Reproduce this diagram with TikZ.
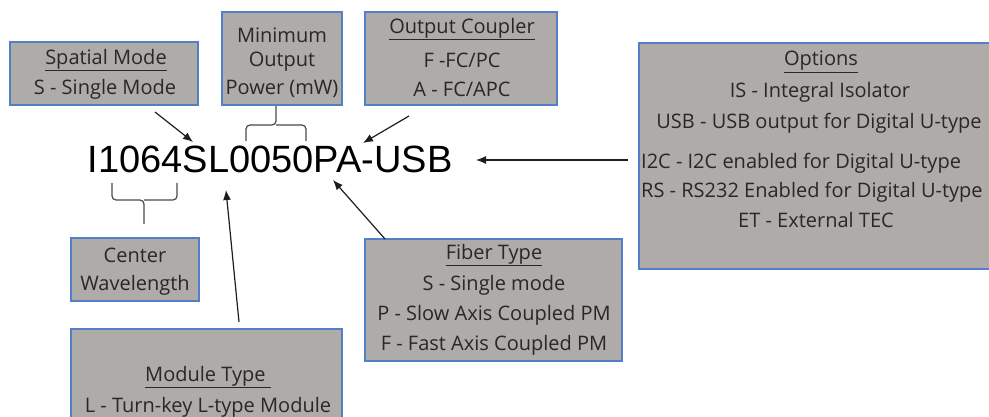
\documentclass[tikz,border=0pt]{standalone}
\usepackage{fontspec}
\setmainfont{Open Sans}
\newfontfamily\arialf{Liberation Sans}
\usetikzlibrary{arrows.meta}
\definecolor{boxfill}{RGB}{174,171,169}
\definecolor{boxline}{RGB}{84,126,200}
\definecolor{txt}{RGB}{40,40,40}
\definecolor{arr}{RGB}{30,30,30}
\tikzset{
  infobox/.style={draw=boxline, line width=2pt, fill=boxfill, inner sep=0pt},
  lbl/.style={text=txt, font=\fontsize{20}{22}\selectfont, inner sep=0pt, anchor=center},
  pointer/.style={draw=arr, line width=1.2pt, -{Latex[length=10pt,width=8pt]}},
  bracket/.style={draw=arr!80, line width=1.2pt, rounded corners=4pt},
}
\begin{document}
\begin{tikzpicture}[x=1pt,y=-1pt]
\clip (0,0) rectangle (989,417);
\fill[white] (0,0) rectangle (989,417);
% boxes
\node[infobox, minimum width=188pt, minimum height=63pt] (spatial) at (104,73.5) {};
\node[infobox, minimum width=120pt, minimum height=93pt] (minpow) at (282,58.5) {};
\node[infobox, minimum width=192pt, minimum height=93pt] (coupler) at (461,58.5) {};
\node[infobox, minimum width=360pt, minimum height=226pt] (options) at (819,156) {};
\node[infobox, minimum width=128pt, minimum height=63pt] (center) at (135,269.5) {};
\node[infobox, minimum width=257pt, minimum height=122pt] (fiber) at (493.5,300) {};
\node[infobox, minimum width=271pt, minimum height=100pt] (module) at (206.5,379) {};
% texts
\node[lbl] (t1) at (106,60) {\underline{Spatial Mode}};
\node[lbl] (t2) at (105,89) {S - Single Mode};
\node[lbl] (t3) at (282,35) {Minimum};
\node[lbl] (t4) at (282,62) {Output};
\node[lbl] (t5) at (282,89) {Power (mW)};
\node[lbl] (t6) at (462,29) {\underline{Output Coupler}};
\node[lbl] (t7) at (462,60) {F -FC/PC};
\node[lbl] (t8) at (462,89) {A - FC/APC};
\node[lbl] (t9) at (821,62) {\underline{Options}};
\node[lbl] (t10) at (820,92) {IS - Integral Isolator};
\node[lbl] (t11) at (819,123) {USB - USB output for Digital U-type};
\node[lbl, anchor=west] (t12) at (641,163) {I2C - I2C enabled for Digital U-type};
\node[lbl, anchor=west] (t13) at (641,192) {RS - RS232 Enabled for Digital U-type};
\node[lbl] (t14) at (816,220) {ET - External TEC};
\node[lbl] (t15) at (135,255) {Center};
\node[lbl] (t16) at (135,285) {Wavelength};
\node[lbl] (t17) at (494,255) {\underline{Fiber Type}};
\node[lbl] (t18) at (494,285) {S - Single mode};
\node[lbl] (t19) at (494,315) {P - Slow Axis Coupled PM};
\node[lbl] (t20) at (494,345) {F - Fast Axis Coupled PM};
\node[lbl] (t21) at (208,377) {\underline{Module Type\ }};
\node[lbl] (t22) at (208,407) {L - Turn-key L-type Module};
% part number
\node[font=\arialf\fontsize{38}{40}\selectfont, text=black, inner sep=0pt, anchor=base west] (pn) at (87.5,173) {I1064SL0050PA-USB};
% connector coordinates
\coordinate (a1s) at (155,112); \coordinate (a1e) at (193,142);
\coordinate (a2s) at (409,116); \coordinate (a2e) at (363,143);
\coordinate (a3s) at (628,160); \coordinate (a3e) at (476,160);
\coordinate (a4s) at (239,322); \coordinate (a4e) at (226,190);
\coordinate (a5s) at (385,239); \coordinate (a5e) at (333,180);
\coordinate (b1top) at (276,106); \coordinate (b1l) at (246,141); \coordinate (b1r) at (306,141); \coordinate (b1m) at (276,125);
\coordinate (b2l) at (112,183); \coordinate (b2r) at (177,183); \coordinate (b2m) at (144,200); \coordinate (b2bot) at (144,224);
% arrows
\draw[pointer] (a1s) -- (a1e);
\draw[pointer] (a2s) -- (a2e);
\draw[pointer] (a3s) -- (a3e);
\draw[pointer] (a4s) -- (a4e);
\draw[pointer] (a5s) -- (a5e);
% brackets
\draw[bracket] (b1l) |- (b1m) -- (b1top);
\draw[bracket] (b1r) |- (b1m);
\draw[bracket] (b2l) |- (b2m) -- (b2bot);
\draw[bracket] (b2r) |- (b2m);
\end{tikzpicture}
\end{document}
